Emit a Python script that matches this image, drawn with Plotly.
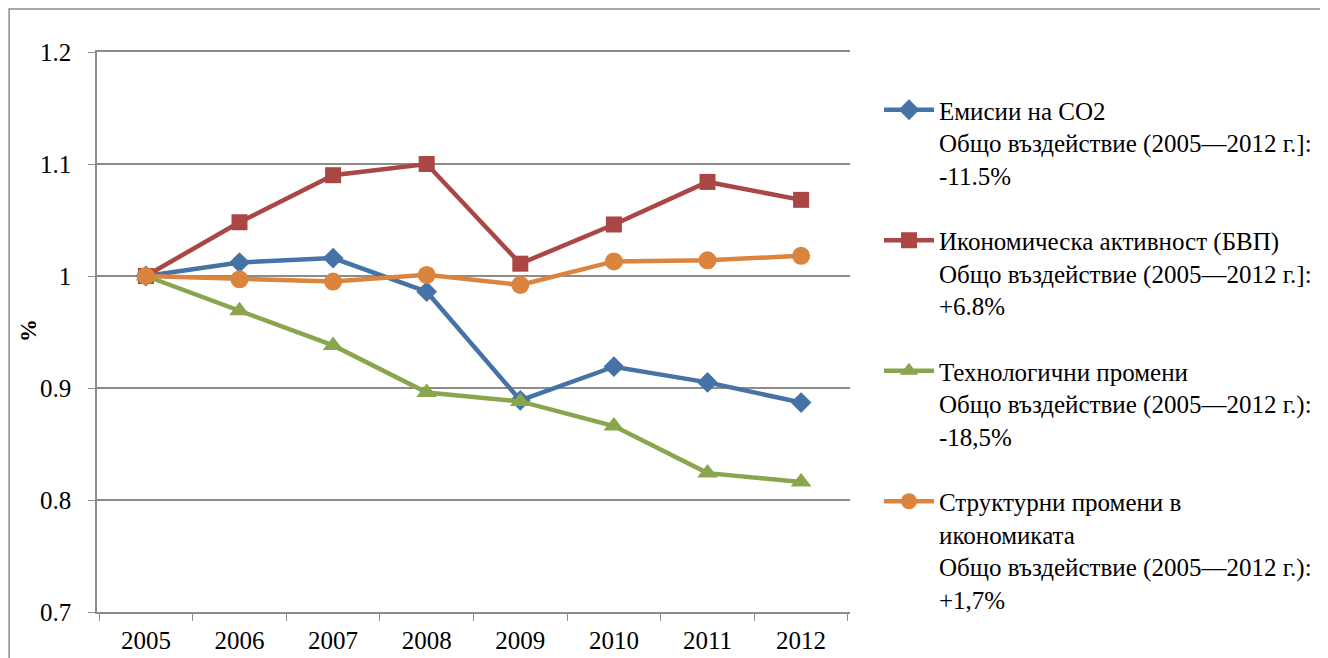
import plotly.graph_objects as go

years = ["2005", "2006", "2007", "2008", "2009", "2010", "2011", "2012"]

co2 = [1.0, 1.012, 1.016, 0.986, 0.889, 0.919, 0.905, 0.887]
gdp = [1.0, 1.048, 1.090, 1.100, 1.011, 1.046, 1.084, 1.068]
tech = [1.0, 0.969, 0.938, 0.896, 0.888, 0.866, 0.824, 0.816]
struct = [1.0, 0.997, 0.995, 1.001, 0.992, 1.013, 1.014, 1.018]

names = [
    "Емисии на CO2<br>Общо въздействие (2005—2012 г.]:<br>-11.5%",
    "Икономическа активност (БВП)<br>Общо въздействие (2005—2012 г.]:<br>+6.8%",
    "Технологични промени<br>Общо въздействие (2005—2012 г.):<br>-18,5%",
    "Структурни промени в<br>икономиката<br>Общо въздействие (2005—2012 г.):<br>+1,7%",
]

series = [co2, gdp, tech, struct]
colors = ["#4572A7", "#AA4643", "#89A54E", "#DB843D"]
symbols = ["diamond", "square", "triangle-up", "circle"]
sizes = [16, 16, 18, 18]

SERIF = "Liberation Serif"
grid = "#8C8C8C"

fig = go.Figure()
for i, (vals, name, c, s, sz) in enumerate(zip(series, names, colors, symbols, sizes)):
    fig.add_trace(go.Scatter(
        x=years, y=vals, name=name, legendgroup=f"g{i}", mode="lines+markers",
        line=dict(color=c, width=4.5),
        marker=dict(symbol=s, size=sz, color=c),
    ))

# page body has an 8px margin, so the figure is 8px smaller than the window
fig.update_layout(
    width=1320, height=650,
    paper_bgcolor="white", plot_bgcolor="white",
    margin=dict(l=89, r=477, t=44, b=46),
    font=dict(family=SERIF, size=25, color="black"),
    legend=dict(
        x=(871 - 89) / 754, y=1 - (79 - 44) / 560,
        xanchor="left", yanchor="top", valign="top",
        font=dict(family=SERIF, size=25, color="black"),
        itemwidth=50, tracegroupgap=30, bgcolor="rgba(0,0,0,0)",
    ),
    shapes=[dict(
        type="rect", xref="paper", yref="paper",
        x0=(1 - 89) / 754, x1=1.7,
        y0=-0.3, y1=1 + 43 / 560,
        line=dict(color="#8C8C8C", width=1.5), layer="below",
    )],
    annotations=[dict(
        text="<b>%</b>", textangle=-90, showarrow=False,
        xref="paper", yref="paper", x=(20 - 89) / 754, y=1 - (323 - 44) / 560,
        xanchor="center", yanchor="middle",
        font=dict(family=SERIF, size=23, color="black"),
    )],
)
fig.update_xaxes(
    type="category", showgrid=False, showline=True, mirror=True,
    linecolor=grid, linewidth=1.5, automargin=False,
    ticks="outside", tickson="boundaries", ticklen=7, tickcolor=grid,
    ticklabelstandoff=5,
    tickfont=dict(family=SERIF, size=25),
)
fig.update_yaxes(
    range=[0.7, 1.2], tickvals=[0.7, 0.8, 0.9, 1.0, 1.1, 1.2],
    showgrid=True, gridcolor=grid, gridwidth=1.5, automargin=False,
    showline=True, linecolor=grid, linewidth=1.5, zeroline=False,
    ticks="outside", ticklen=7, tickcolor=grid, ticklabelstandoff=12,
    tickfont=dict(family=SERIF, size=25),
)

fig.write_html("out.html")
